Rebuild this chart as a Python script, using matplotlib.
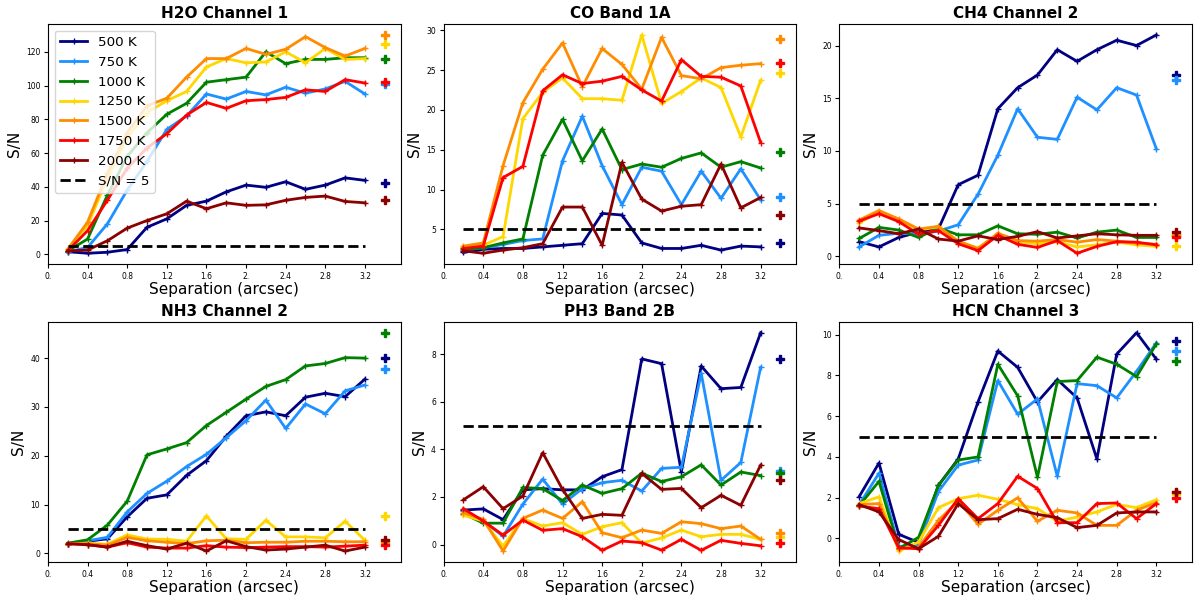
import matplotlib
matplotlib.use("Agg")
import matplotlib.pyplot as plt
import numpy as np

# separations (arcsec) and the temperature grid
sep = [0.2, 0.4, 0.6, 0.8, 1.0, 1.2, 1.4, 1.6, 1.8, 2.0, 2.2, 2.4, 2.6, 2.8, 3.0, 3.2]
sep_extra = 3.4
temps = ["500 K", "750 K", "1000 K", "1250 K", "1500 K", "1750 K", "2000 K"]
colors = ["navy", "dodgerblue", "green", "gold", "darkorange", "red", "darkred"]

titles = ["H2O Channel 1", "CO Band 1A", "CH4 Channel 2",
          "NH3 Channel 2", "PH3 Band 2B", "HCN Channel 3"]

xtick_vals = [0, 0.4, 0.8, 1.2, 1.6, 2.0, 2.4, 2.8, 3.2]
xtick_labels = ["0.", "0.4", "0.8", "1.2", "1.6", "2.", "2.4", "2.8", "3.2"]

# S/N curves, one list per temperature
h2o = [
    [1.5, 0.6, 1.2, 2.8, 16, 21, 29, 31.5, 37, 41, 39.7, 43, 38.5, 41, 45.3, 43.8],
    [1.5, 4, 18, 38, 55, 74, 82, 95, 92, 96.5, 94.5, 99, 95.5, 98, 102.5, 95],
    [2, 9, 35, 58, 72, 83, 89.5, 102, 103.5, 105, 120, 113, 115.5, 115.5, 116.5, 116.5],
    [3, 17, 45, 69, 84, 91, 96.5, 111, 116, 113.5, 114, 120, 113.5, 122, 115.5, 116],
    [3, 19, 48, 72, 88, 92.5, 105, 116, 116, 122, 118.5, 121.5, 129, 122.5, 117.5, 122],
    [2, 14, 32, 51, 63, 71.5, 82.5, 90, 86.5, 91, 91.7, 93, 97.5, 96.5, 103.5, 101.5],
    [2, 2.5, 8, 15.5, 20, 24, 31.5, 27, 30.5, 29, 29.3, 32, 33.7, 34.5, 31.3, 30.5],
]
h2o_extra = [42, 101, 115.5, 124.5, 130, 102, 32]

co = [
    [2.1, 2.5, 2.6, 2.6, 2.8, 3.0, 3.2, 7.0, 6.8, 3.3, 2.6, 2.6, 3.0, 2.4, 2.9, 2.8],
    [2.4, 2.7, 3.1, 3.6, 3.8, 13.6, 19.2, 13.0, 8.1, 12.8, 12.3, 8.1, 12.3, 8.9, 12.6, 8.7],
    [2.5, 2.7, 3.3, 3.8, 14.3, 18.8, 13.6, 17.6, 12.5, 13.2, 12.8, 13.9, 14.6, 12.8, 13.5, 12.7],
    [2.8, 3.0, 4.1, 18.9, 22.2, 24.0, 21.4, 21.4, 21.2, 29.4, 20.8, 22.3, 24.0, 22.8, 16.6, 23.7],
    [2.9, 3.3, 13.0, 20.9, 25.1, 28.4, 22.9, 27.7, 25.7, 22.6, 29.1, 24.3, 23.9, 25.3, 25.6, 25.8],
    [2.6, 2.9, 11.5, 12.9, 22.4, 24.4, 23.3, 23.6, 24.2, 22.5, 21.1, 26.3, 24.2, 24.1, 23.0, 15.9],
    [2.3, 2.0, 2.4, 2.7, 3.2, 7.8, 7.8, 3.0, 13.4, 8.8, 7.3, 7.9, 8.1, 13.2, 7.7, 9.0],
]
co_extra = [3.3, 9.1, 14.7, 24.6, 28.9, 25.9, 6.8]

ch4 = [
    [1.4, 0.9, 1.8, 2.3, 2.6, 6.8, 7.7, 14.0, 16.0, 17.2, 19.6, 18.5, 19.6, 20.5, 20.0, 21.0],
    [0.9, 2.0, 2.2, 2.1, 2.4, 3.0, 5.9, 9.6, 14.0, 11.3, 11.1, 15.1, 13.9, 16.0, 15.3, 10.2],
    [1.7, 2.75, 2.5, 1.8, 2.7, 2.05, 2.05, 2.9, 2.15, 2.1, 2.3, 1.75, 2.3, 2.5, 1.8, 1.8],
    [3.15, 4.25, 3.5, 2.5, 2.8, 1.4, 0.8, 2.05, 1.4, 1.2, 1.4, 0.9, 1.1, 1.35, 1.1, 0.95],
    [3.45, 4.35, 3.55, 2.6, 2.85, 1.45, 0.75, 2.2, 1.5, 1.45, 1.6, 1.35, 1.6, 1.45, 1.25, 1.15],
    [3.35, 4.05, 3.3, 2.1, 2.45, 1.2, 0.55, 2.0, 1.15, 0.85, 1.5, 0.3, 0.95, 1.4, 1.35, 1.1],
    [2.7, 2.45, 2.15, 2.6, 1.65, 1.45, 1.95, 1.6, 1.9, 2.35, 1.75, 1.95, 2.15, 2.05, 2.0, 2.0],
]
ch4_extra = [17.2, 16.7, 2.0, 1.0, 2.0, 1.8, 2.3]

nh3 = [
    [2.0, 2.5, 3.0, 7.5, 11.3, 12.0, 16.0, 19.0, 24.0, 28.2, 29.0, 28.2, 32.0, 32.8, 32.1, 35.7],
    [2.0, 2.6, 3.3, 8.5, 12.3, 14.8, 17.8, 20.3, 23.7, 27.2, 31.4, 25.6, 30.6, 28.6, 33.3, 34.5],
    [2.1, 2.8, 5.8, 10.7, 20.2, 21.4, 22.7, 26.2, 28.9, 31.6, 34.2, 35.6, 38.4, 38.9, 40.1, 40.0],
    [2.0, 2.1, 1.9, 3.8, 2.95, 2.9, 2.5, 7.7, 3.0, 2.9, 6.8, 3.4, 3.4, 3.2, 6.6, 2.7],
    [2.0, 2.0, 1.7, 3.3, 2.6, 2.3, 2.0, 2.6, 2.7, 2.2, 2.3, 2.3, 2.5, 2.5, 2.4, 2.4],
    [2.0, 1.8, 1.3, 2.2, 1.3, 1.1, 1.1, 1.6, 1.3, 1.2, 1.3, 1.4, 1.4, 1.3, 1.5, 1.7],
    [2.0, 1.8, 1.3, 2.5, 1.6, 0.9, 2.1, 0.5, 2.6, 1.4, 0.7, 0.9, 1.3, 1.7, 0.5, 1.3],
]
nh3_extra = [40.0, 37.8, 45.2, 7.6, 2.4, 1.8, 2.7]

ph3 = [
    [1.45, 1.5, 1.05, 2.3, 2.35, 2.3, 2.3, 2.85, 3.15, 7.8, 7.6, 3.05, 7.5, 6.55, 6.6, 8.9],
    [1.4, 1.0, 0.35, 1.7, 2.75, 1.7, 2.35, 2.6, 2.7, 2.25, 3.2, 3.25, 7.2, 2.7, 3.45, 7.45],
    [1.3, 0.9, 0.9, 2.4, 2.35, 1.85, 2.5, 2.15, 2.35, 3.0, 2.65, 2.85, 3.35, 2.5, 3.05, 2.9],
    [1.23, 0.99, -0.06, 1.09, 0.78, 0.92, 0.43, 0.75, 0.92, 0.06, 0.28, 0.61, 0.33, 0.43, 0.43, 0.22],
    [1.34, 1.06, -0.27, 1.1, 1.45, 1.1, 1.8, 0.5, 0.29, 0.61, 0.47, 0.96, 0.88, 0.67, 0.78, 0.22],
    [1.51, 0.99, 0.4, 1.03, 0.6, 0.67, 0.33, -0.24, 0.15, 0.08, -0.23, 0.22, -0.24, 0.18, 0.05, -0.05],
    [1.88, 2.43, 1.51, 2.04, 3.86, 2.32, 1.1, 1.27, 1.23, 2.99, 2.32, 2.36, 1.55, 2.07, 1.65, 3.34],
]
ph3_extra = [7.8, 3.1, 3.0, 0.3, 0.5, 0.05, 2.73]

hcn = [
    [2.05, 3.7, 0.2, -0.2, 2.6, 3.9, 6.7, 9.2, 8.4, 6.7, 7.8, 6.9, 3.9, 9.05, 10.1, 8.8],
    [1.65, 3.2, -0.4, -0.3, 2.3, 3.6, 3.85, 7.75, 6.1, 6.85, 3.05, 7.6, 7.5, 6.9, 8.2, 9.6],
    [1.6, 2.8, -0.5, 0.05, 2.6, 3.85, 4.0, 8.55, 7.0, 3.0, 7.7, 7.75, 8.9, 8.55, 7.95, 9.55],
    [1.71, 2.04, -0.62, -0.18, 1.51, 1.95, 2.12, 1.92, 1.66, 1.46, 0.84, 1.05, 1.3, 1.67, 1.51, 1.9],
    [1.66, 1.71, -0.51, -0.43, 0.88, 1.84, 0.69, 1.38, 1.99, 0.84, 1.38, 1.25, 0.64, 0.64, 1.38, 1.76],
    [1.59, 1.46, -0.46, -0.51, 0.64, 1.95, 0.97, 1.71, 3.05, 2.45, 0.77, 0.77, 1.71, 1.74, 0.97, 1.71],
    [1.66, 1.3, -0.06, -0.51, 0.1, 1.71, 0.92, 0.97, 1.43, 1.18, 1.02, 0.53, 0.64, 1.25, 1.3, 1.3],
]
hcn_extra = [9.7, 9.2, 8.7, 2.2, 2.3, 2.0, 2.3]

panels = [(h2o, h2o_extra), (co, co_extra), (ch4, ch4_extra),
          (nh3, nh3_extra), (ph3, ph3_extra), (hcn, hcn_extra)]

fig, axes = plt.subplots(2, 3, figsize=(11.98, 6.01), dpi=100)
fig.subplots_adjust(left=0.040, right=0.995, top=0.960, bottom=0.065,
                    wspace=0.122, hspace=0.24)

for ax, title, (curves, extras) in zip(axes.flat, titles, panels):
    for vals, ex, col, lab in zip(curves, extras, colors, temps):
        ax.plot(sep, vals, color=col, lw=2, marker="+", ms=5, label=lab)
        ax.plot([sep_extra], [ex], color=col, marker="P", ms=6, ls="none")
    ax.plot([sep[0], sep[-1]], [5, 5], "k--", lw=2, label="S/N = 5")
    ax.set_xlim(0, 3.56)
    ax.set_xticks(xtick_vals)
    ax.set_xticklabels(xtick_labels)
    ax.tick_params(labelsize=5.5, length=3, pad=2.5)
    ax.set_title(title, fontsize=11, fontweight="bold", pad=4)
    ax.set_xlabel("Separation (arcsec)", fontsize=11, labelpad=1)
    ax.set_ylabel("S/N", fontsize=11, labelpad=3)

axes[0, 0].legend(loc="upper left", fontsize=9.7, handlelength=2.0)

plt.savefig("out.png", dpi=100)
